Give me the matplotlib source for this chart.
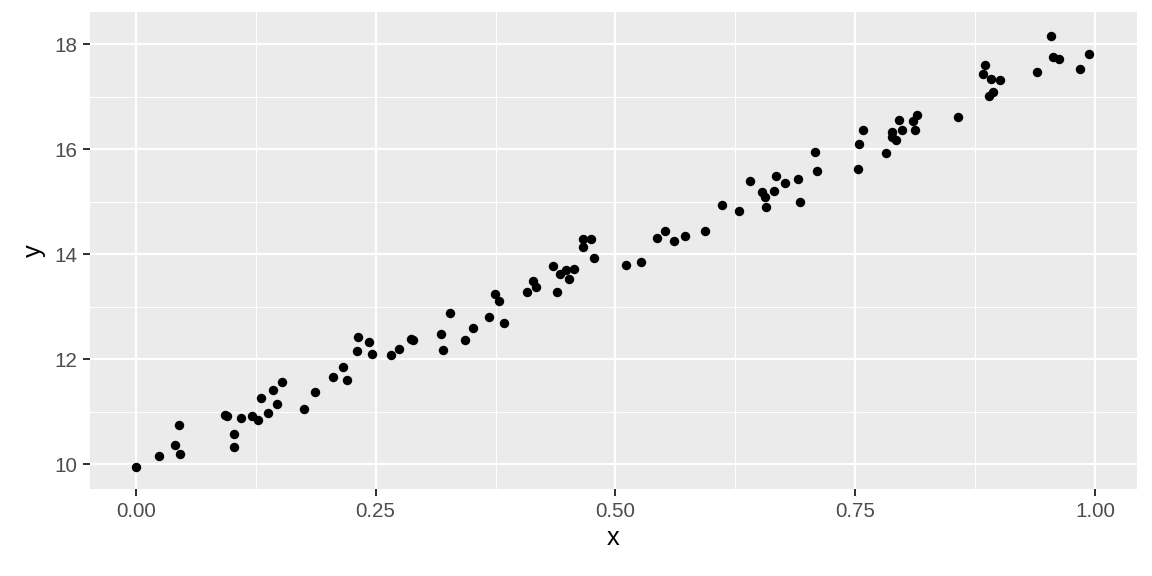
import numpy as np
import matplotlib.pyplot as plt

plt.rcParams['font.family'] = ['Liberation Sans', 'DejaVu Sans']

# values
x = [0.000, 0.0236, 0.041, 0.0445, 0.0455, 0.0925, 0.0945, 0.102, 0.102, 0.110,
     0.1213, 0.127, 0.130, 0.138, 0.1425, 0.147, 0.152, 0.175, 0.187, 0.206,
     0.2155, 0.2197, 0.232, 0.231, 0.2426, 0.2457, 0.2656, 0.274,
     0.2864, 0.2885, 0.3177, 0.3198, 0.327, 0.3427, 0.351, 0.3678, 0.374, 0.379,
     0.3834, 0.408, 0.4137, 0.4167, 0.4344, 0.4386, 0.442, 0.448, 0.452, 0.4564,
     0.4658, 0.4658, 0.475, 0.4773, 0.5106, 0.527, 0.543, 0.5513, 0.5607, 0.572,
     0.593,
     0.611, 0.6284, 0.640, 0.6524, 0.6556, 0.6566, 0.665, 0.667, 0.6764, 0.690,
     0.692, 0.7077, 0.7097, 0.7525, 0.7536, 0.7577, 0.7818, 0.788, 0.788, 0.793,
     0.7953, 0.7984, 0.810, 0.812, 0.814,
     0.8568, 0.8856, 0.8828, 0.892, 0.901, 0.889, 0.894, 0.940, 0.954, 0.956,
     0.9625, 0.984, 0.9934]
y = [9.95, 10.16, 10.37, 10.75, 10.20, 10.94, 10.92, 10.58, 10.33, 10.88,
     10.91, 10.84, 11.25, 10.98, 11.42, 11.15, 11.56, 11.05, 11.37, 11.66,
     11.85, 11.60, 12.42, 12.15, 12.33, 12.10, 12.08, 12.19,
     12.39, 12.36, 12.48, 12.17, 12.88, 12.36, 12.59, 12.81, 13.24, 13.10,
     12.69, 13.28, 13.48, 13.37, 13.77, 13.28, 13.63, 13.69, 13.52, 13.71,
     14.28, 14.13, 14.28, 13.92, 13.79, 13.85, 14.30, 14.45, 14.26, 14.34,
     14.45,
     14.93, 14.82, 15.39, 15.18, 15.08, 14.89, 15.20, 15.48, 15.35, 15.44,
     14.99, 15.94, 15.58, 15.63, 16.09, 16.36, 15.92, 16.32, 16.23, 16.17,
     16.55, 16.36, 16.53, 16.36, 16.66,
     16.62, 17.60, 17.43, 17.33, 17.31, 17.01, 17.09, 17.48, 18.16, 17.76,
     17.72, 17.53, 17.81]

x_ticks = [0.00, 0.25, 0.50, 0.75, 1.00]
x_labels = ["0.00", "0.25", "0.50", "0.75", "1.00"]
y_ticks = [10, 12, 14, 16, 18]

fig = plt.figure(figsize=(12, 6), dpi=96)
ax = fig.add_axes([0.078, 0.151, 0.909, 0.828])
ax.set_facecolor("#EBEBEB")

ax.scatter(x, y, s=50, color="black", linewidths=0, zorder=3)

ax.set_xticks(x_ticks)
ax.set_xticklabels(x_labels)
ax.set_yticks(y_ticks)
ax.set_xticks(np.arange(-0.125, 1.1, 0.25), minor=True)
ax.set_yticks(np.arange(9, 19.5, 2), minor=True)
ax.set_xlim(-0.048, 1.0438)
ax.set_ylim(9.525, 18.612)

ax.grid(which="major", color="white", linewidth=1.6, zorder=0)
ax.grid(which="minor", color="white", linewidth=0.8, zorder=0)
ax.set_axisbelow(True)
for s in ax.spines.values():
    s.set_visible(False)

ax.tick_params(which="major", length=5.5, width=1.5, color="#333333",
               labelsize=15.5, labelcolor="#4D4D4D")
ax.tick_params(axis="x", pad=4)
ax.tick_params(axis="y", pad=4)
ax.tick_params(which="minor", length=0)

ax.set_xlabel("x", fontsize=19, color="black", labelpad=4)
ax.set_ylabel("y", fontsize=19, color="black", labelpad=6)

fig.savefig("out.png", dpi=96)
